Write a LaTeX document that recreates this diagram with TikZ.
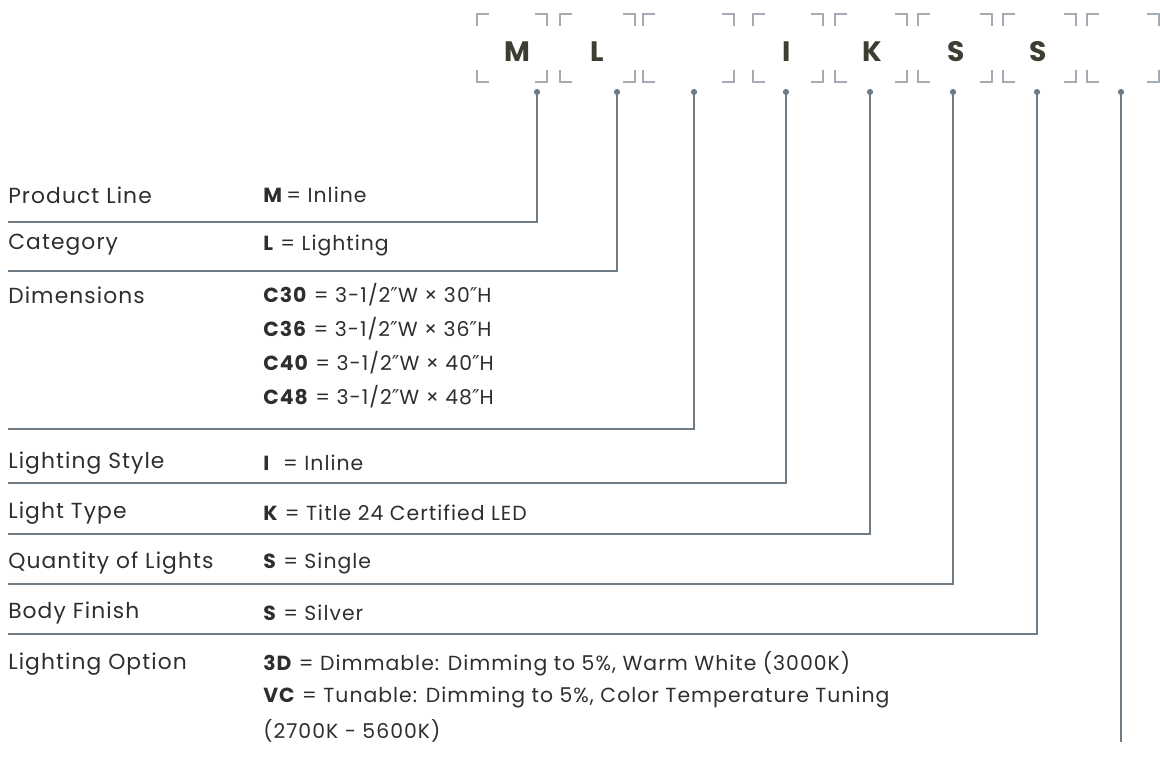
\documentclass[tikz,border=0pt]{standalone}
\usepackage{fontspec}
\setmainfont{Poppins}
\newfontfamily\spacedfont[LetterSpace=5]{Poppins}
\newfontfamily\symfont{DejaVu Sans}
\usetikzlibrary{positioning,calc}
\definecolor{wiregray}{HTML}{6E7C88}
\definecolor{brackgray}{HTML}{A4ABB2}
\definecolor{codeink}{HTML}{3D3E32}
\definecolor{textink}{HTML}{2E2E2E}
\newcommand{\inchmark}{{\symfont ″}}
\newcommand{\dimrow}[1]{\textbf{C#1} = 3-1/2\inchmark W × #1\inchmark H}

\begin{document}
\begin{tikzpicture}[x=0.025cm,y=-0.025cm,
    letter/.style={font=\bfseries\fontsize{20}{24}\selectfont, text=codeink, inner sep=0pt},
    bracket/.style={brackgray, line width=2.1pt},
    wire/.style={wiregray, line width=2.1pt},
    field/.style={anchor=west, inner sep=0pt, text=textink, font=\spacedfont\fontsize{15.5}{18}\selectfont},
    code/.style={anchor=west, inner sep=0pt, text=textink, font=\spacedfont\fontsize{14.5}{18}\selectfont}]
    \useasboundingbox (0,0) rectangle (1160,768);
    % code boxes
    \foreach \l/\r/\c/\t [count=\i] in {477/547/517/M, 560/635/597/L, 643/734/689/{}, 753/823/787/I,
            835/907/872/K, 918/992/956/S, 1003/1076/1038/S, 1087/1159/1123/{}} {
        \node[letter] (b\i) at (\c,52) {\t};
        \draw[bracket] (\l,26) -- (\l,14) -- (\l+12,14);
        \draw[bracket] (\r-12,14) -- (\r,14) -- (\r,26);
        \draw[bracket] (\l,70) -- (\l,82) -- (\l+12,82);
        \draw[bracket] (\r-12,82) -- (\r,82) -- (\r,70);
    }
    % rows
    \node[field] (f1) at (8,195) {Product Line};
    \node[field] (f2) at (8,245) {Category};
    \node[field] (f3) at (8,295) {Dimensions};
    \node[field] (f4) at (8,463) {Lighting Style};
    \node[field] (f5) at (8,513) {Light Type};
    \node[field] (f6) at (8,563) {Quantity of Lights};
    \node[field] (f7) at (8,613) {Body Finish};
    \node[field] (f8) at (8,664) {Lighting Option};
    \node[code] (v1) at (263,195) {\textbf{M}\,= Inline};
    \node[code] (v2) at (263,245) {\textbf{L} = Lighting};
    \node[code] (v3a) at (263,295) {\dimrow{30}};
    \node[code] (v3b) at (263,329) {\dimrow{36}};
    \node[code] (v3c) at (263,363) {\dimrow{40}};
    \node[code] (v3d) at (263,397) {\dimrow{48}};
    \node[code] (v4) at (263,463) {\textbf{I}\ \ = Inline};
    \node[code] (v5) at (263,513) {\textbf{K} = Title 24 Certified LED};
    \node[code] (v6) at (263,563) {\textbf{S} = Single};
    \node[code] (v7) at (263,613) {\textbf{S} = Silver};
    \node[code] (v8a) at (263,664) {\textbf{3D} = Dimmable: Dimming to 5\%, Warm White (3000K)};
    \node[code] (v8b) at (263,697) {\textbf{VC} = Tunable: Dimming to 5\%, Color Temperature Tuning};
    \node[code] (v8c) at (263,731) {(2700K - 5600K)};
    % pins and leaders
    \foreach \px/\sy [count=\i] in {537/222, 617/271, 694/429, 786/483, 870/534, 953/584, 1037/634} {
        \coordinate (p\i) at (\px,92);
        \coordinate (s\i) at (8,\sy);
        \fill[wiregray] (p\i) circle (2.2pt);
        \draw[wire] (p\i) |- (s\i);
    }
    \coordinate (p8) at (1121,92);
    \coordinate (e8) at (1121,742);
    \fill[wiregray] (p8) circle (2.2pt);
    \draw[wire] (p8) -- (e8);
\end{tikzpicture}
\end{document}
